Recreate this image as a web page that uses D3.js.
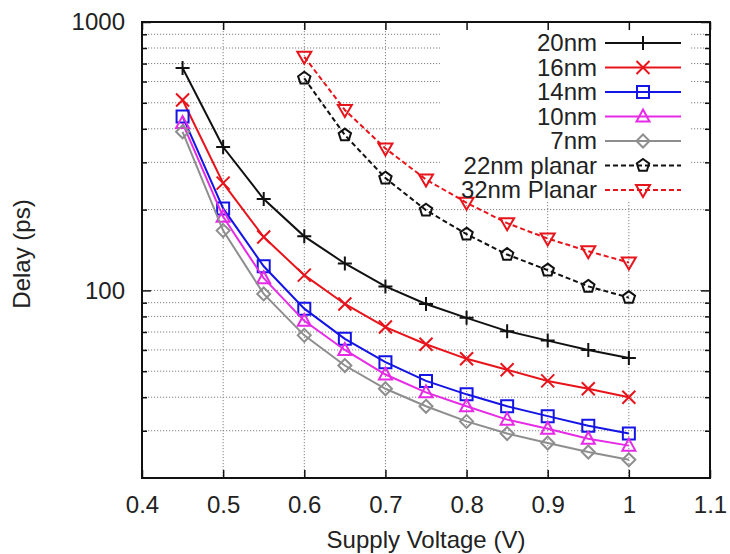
<!DOCTYPE html>
<html>
<head>
<meta charset="utf-8">
<script src="https://cdn.jsdelivr.net/npm/d3@7"></script>
<style>
  body { margin: 0; background: #fff; }
  text { font-family: "Liberation Sans", Arial, Helvetica, sans-serif; fill: #222; }
</style>
</head>
<body>
<svg id="chart" width="730" height="554"></svg>
<script>
// Supply voltage sweep points (V)
const voltsFinFET = [0.45, 0.5, 0.55, 0.6, 0.65, 0.7, 0.75, 0.8, 0.85, 0.9, 0.95, 1.0];
const voltsPlanar = [0.6, 0.65, 0.7, 0.75, 0.8, 0.85, 0.9, 0.95, 1.0];

// Delay (ps) per technology node
const delay20nm = [674, 342, 219, 159, 126, 103.5, 89, 79, 70.5, 65, 60, 56];
const delay16nm = [512, 251, 158, 114, 89, 73, 63, 55.6, 50.6, 46, 43, 40];
const delay14nm = [445, 202, 123, 85.5, 66, 54, 46, 41, 37, 34, 31.3, 29.3];
const delay10nm = [420, 188, 111, 77, 60, 48.6, 41.7, 37, 33, 30.5, 28, 26.4];
const delay7nm  = [390, 167, 97, 68, 52.5, 43, 37, 32.5, 29.3, 27, 25, 23.4];
const delay22nmPlanar = [617, 379, 262, 199, 162, 136, 119, 103.5, 94];
const delay32nmPlanar = [742, 470, 338, 259, 212, 178, 156, 140, 127];

const seriesNames = ["20nm", "16nm", "14nm", "10nm", "7nm", "22nm planar", "32nm Planar"];

// Axis ticks
const xTickValues = [0.4, 0.5, 0.6, 0.7, 0.8, 0.9, 1.0, 1.1];
const yMajorTicks = [100, 1000];
const yMinorTicks = [30, 40, 50, 60, 70, 80, 90, 200, 300, 400, 500, 600, 700, 800, 900];

// Styling per series
const styles = [
  { color: "#111111", marker: "plus",     dash: null },
  { color: "#e8141b", marker: "cross",    dash: null },
  { color: "#1414e6", marker: "square",   dash: null },
  { color: "#e62ae6", marker: "triangle", dash: null },
  { color: "#8e8e8e", marker: "diamond",  dash: null },
  { color: "#111111", marker: "pentagon", dash: "5,3" },
  { color: "#e8141b", marker: "tridown",  dash: "5,3" }
];

const seriesData = [
  { x: voltsFinFET, y: delay20nm },
  { x: voltsFinFET, y: delay16nm },
  { x: voltsFinFET, y: delay14nm },
  { x: voltsFinFET, y: delay10nm },
  { x: voltsFinFET, y: delay7nm },
  { x: voltsPlanar, y: delay22nmPlanar },
  { x: voltsPlanar, y: delay32nmPlanar }
].map((s, i) => ({
  name: seriesNames[i],
  style: styles[i],
  points: s.x.map((v, j) => ({ v: v, d: s.y[j] }))
}));

const plot = { left: 142, top: 22, right: 710, bottom: 478 };
const x = d3.scaleLinear().domain([0.4, 1.1]).range([plot.left, plot.right]);
const y = d3.scaleLog().domain([20, 1000]).range([plot.bottom, plot.top]);
const fontSize = 24;

const svg = d3.select("#chart");
svg.append("rect").attr("width", 730).attr("height", 554).attr("fill", "#fff");

// Marker path generators (centered at 0,0)
function markerPath(type) {
  switch (type) {
    case "plus": return "M-7,0H7M0,-7V7";
    case "cross": return "M-6.5,-6.5L6.5,6.5M-6.5,6.5L6.5,-6.5";
    case "square": return "M-6,-6H6V6H-6Z";
    case "triangle": return "M0,-7L6.5,5L-6.5,5Z";
    case "diamond": return "M0,-6.5L6.5,0L0,6.5L-6.5,0Z";
    case "tridown": return "M-7,-5L7,-5L0,7Z";
    case "pentagon": {
      const r = 6.5;
      const pts = d3.range(5).map(k => {
        const a = -Math.PI / 2 + k * 2 * Math.PI / 5;
        return [r * Math.cos(a), r * Math.sin(a)];
      });
      return "M" + pts.map(p => p.join(",")).join("L") + "Z";
    }
  }
}

// Grid lines (dotted)
const grid = svg.append("g").attr("stroke", "#808080").attr("stroke-width", 1)
  .attr("stroke-dasharray", "1.2,1.8");
grid.selectAll("line.h").data(yMinorTicks.concat([100])).join("line")
  .attr("x1", plot.left).attr("x2", plot.right)
  .attr("y1", d => y(d)).attr("y2", d => y(d));
grid.selectAll("line.v").data(xTickValues.slice(1, -1)).join("line")
  .attr("x1", d => x(d)).attr("x2", d => x(d))
  .attr("y1", plot.top).attr("y2", plot.bottom);

// Opaque key area
svg.append("rect").attr("x", 440).attr("y", plot.top + 1)
  .attr("width", 250).attr("height", 177).attr("fill", "#fff");

// Axes: inward ticks on all four sides
const axisStyle = g => {
  g.select(".domain").remove();
  g.selectAll(".tick line").attr("stroke", "#111").attr("stroke-width", 1.5);
  g.selectAll(".tick text").attr("font-size", fontSize).attr("fill", "#222")
    .attr("font-family", '"Liberation Sans", Arial, sans-serif');
};

svg.append("g").attr("transform", `translate(0,${plot.bottom})`)
  .call(d3.axisBottom(x).tickValues(xTickValues).tickFormat(d3.format("~g"))
    .tickSizeInner(-8).tickSizeOuter(0).tickPadding(18))
  .call(axisStyle);
svg.append("g").attr("transform", `translate(0,${plot.top})`)
  .call(d3.axisTop(x).tickValues(xTickValues).tickFormat("")
    .tickSizeInner(-8).tickSizeOuter(0))
  .call(axisStyle);

svg.append("g").attr("transform", `translate(${plot.left},0)`)
  .call(d3.axisLeft(y).tickValues(yMajorTicks).tickFormat(d3.format("d"))
    .tickSizeInner(-9).tickSizeOuter(0).tickPadding(17))
  .call(axisStyle);
svg.append("g").attr("transform", `translate(${plot.left},0)`)
  .call(d3.axisLeft(y).tickValues(yMinorTicks).tickFormat("")
    .tickSizeInner(-5).tickSizeOuter(0))
  .call(axisStyle);
svg.append("g").attr("transform", `translate(${plot.right},0)`)
  .call(d3.axisRight(y).tickValues(yMajorTicks).tickFormat("")
    .tickSizeInner(-9).tickSizeOuter(0))
  .call(axisStyle);
svg.append("g").attr("transform", `translate(${plot.right},0)`)
  .call(d3.axisRight(y).tickValues(yMinorTicks).tickFormat("")
    .tickSizeInner(-5).tickSizeOuter(0))
  .call(axisStyle);

// Series lines and markers
const line = d3.line().x(p => x(p.v)).y(p => y(p.d));
const seriesG = svg.append("g");
seriesData.forEach(s => {
  const g = seriesG.append("g");
  g.append("path").datum(s.points)
    .attr("d", line).attr("fill", "none")
    .attr("stroke", s.style.color).attr("stroke-width", 2)
    .attr("stroke-dasharray", s.style.dash);
  g.selectAll("path.m").data(s.points).join("path").attr("class", "m")
    .attr("d", markerPath(s.style.marker))
    .attr("transform", p => `translate(${x(p.v)},${y(p.d)})`)
    .attr("fill", "none").attr("stroke", s.style.color).attr("stroke-width", 2);
});

// Frame
svg.append("rect").attr("x", plot.left).attr("y", plot.top)
  .attr("width", plot.right - plot.left).attr("height", plot.bottom - plot.top)
  .attr("fill", "none").attr("stroke", "#111").attr("stroke-width", 2);

// Key
const key = svg.append("g");
const keyRowY = d3.scaleLinear().domain([0, 6]).range([43, 190]);
seriesData.forEach((s, i) => {
  const ry = keyRowY(i);
  key.append("text").attr("x", 597).attr("y", ry).attr("dy", "0.35em")
    .attr("text-anchor", "end").attr("font-size", fontSize).text(s.name);
  key.append("line").attr("x1", 605).attr("x2", 681).attr("y1", ry).attr("y2", ry)
    .attr("stroke", s.style.color).attr("stroke-width", 2)
    .attr("stroke-dasharray", s.style.dash);
  key.append("path").attr("d", markerPath(s.style.marker))
    .attr("transform", `translate(643,${ry})`)
    .attr("fill", "none").attr("stroke", s.style.color).attr("stroke-width", 2);
});

// Axis titles
svg.append("text").attr("x", 426).attr("y", 548).attr("text-anchor", "middle")
  .attr("font-size", fontSize).text("Supply Voltage (V)");
svg.append("text").attr("transform", "translate(30,254) rotate(-90)")
  .attr("text-anchor", "middle").attr("font-size", fontSize).text("Delay (ps)");
</script>
</body>
</html>
